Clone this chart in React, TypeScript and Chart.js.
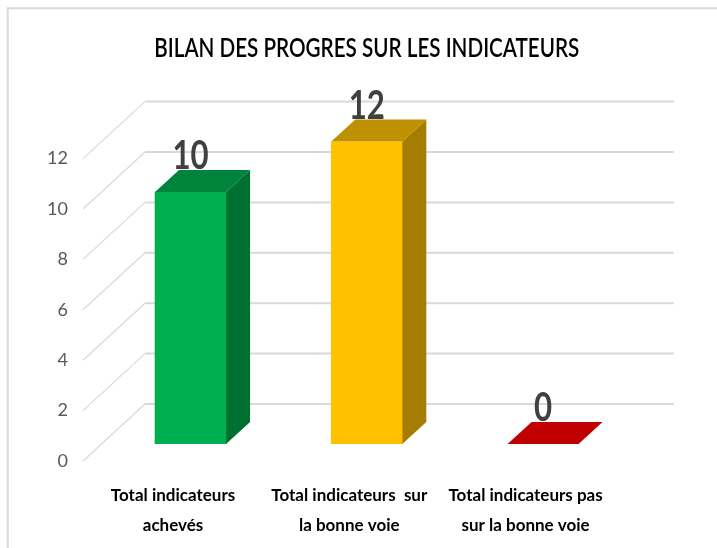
import React, { useEffect, useRef } from "react";
import { Chart, registerables } from "chart.js";

Chart.register(...registerables);

const title = "BILAN DES PROGRES SUR LES INDICATEURS";
const categories: string[][] = [
  ["Total indicateurs", "achevés"],
  ["Total indicateurs  sur", "la bonne voie"],
  ["Total indicateurs pas", "sur la bonne voie"],
];
const values: number[] = [10, 12, 0];
const yMin = 0;
const yMax = 12;
const yStep = 2;

const frontColors = ["#00b050", "#ffc000", "#c00000"];
const topColors = ["#00843c", "#bf9000", "#c00000"];
const sideColors = ["#007030", "#a67d00", "#a00000"];

const FONT = "Lato, 'Open Sans', sans-serif";
const GRID = "#d9d9d9";
// 3D projection offsets (style only)
const DEPTH_DX = 24;
const DEPTH_DY = -22;
const FRONT_DX = -19.4;
const FRONT_DY = 17;
const BACK_DX = 42.6;
const BACK_DY = -40;

const threeD = {
  id: "threeD",
  beforeDraw(chart: any) {
    const { ctx, width, height } = chart;
    ctx.save();
    ctx.fillStyle = "#ffffff";
    ctx.fillRect(0, 0, width, height);
    ctx.strokeStyle = GRID;
    ctx.lineWidth = 2;
    ctx.strokeRect(7.7, 8.3, width + 20, height + 20);
    ctx.restore();
  },
  beforeDatasetsDraw(chart: any) {
    const { ctx, chartArea } = chart;
    const ys = chart.scales.y;
    ctx.save();
    ys.ticks.forEach((t: any) => {
      const y = ys.getPixelForValue(t.value);
      ctx.strokeStyle = GRID;
      ctx.lineWidth = 1.2;
      ctx.beginPath();
      ctx.moveTo(chartArea.left + FRONT_DX, y + FRONT_DY);
      ctx.lineTo(chartArea.left + BACK_DX, y + BACK_DY);
      ctx.stroke();
      ctx.lineWidth = 2;
      ctx.beginPath();
      ctx.moveTo(chartArea.left + BACK_DX, y + BACK_DY);
      ctx.lineTo(chartArea.right + BACK_DX, y + BACK_DY);
      ctx.stroke();
    });
    ctx.restore();
  },
  afterDatasetsDraw(chart: any) {
    const { ctx, chartArea } = chart;
    const meta = chart.getDatasetMeta(0);
    ctx.save();
    meta.data.forEach((el: any, i: number) => {
      const { x, y, base, width } = el.getProps(["x", "y", "base", "width"], true);
      const l = x - width / 2;
      const r = x + width / 2;
      if (base - y > 0.5) {
        ctx.fillStyle = sideColors[i];
        ctx.beginPath();
        ctx.moveTo(r, y);
        ctx.lineTo(r + DEPTH_DX, y + DEPTH_DY);
        ctx.lineTo(r + DEPTH_DX, base + DEPTH_DY);
        ctx.lineTo(r, base);
        ctx.closePath();
        ctx.fill();
      }
      ctx.fillStyle = topColors[i];
      ctx.beginPath();
      ctx.moveTo(l, y);
      ctx.lineTo(r, y);
      ctx.lineTo(r + DEPTH_DX, y + DEPTH_DY);
      ctx.lineTo(l + DEPTH_DX, y + DEPTH_DY);
      ctx.closePath();
      ctx.fill();
      // value label (condensed look)
      ctx.save();
      ctx.translate(x, y + DEPTH_DY - 1);
      ctx.scale(0.78, 1);
      ctx.fillStyle = "#404040";
      ctx.font = `bold 40px ${FONT}`;
      ctx.textAlign = "center";
      ctx.textBaseline = "alphabetic";
      ctx.fillText(String(values[i]), 0, 0);
      ctx.restore();
    });
    // title (condensed look)
    ctx.save();
    ctx.font = `600 26px ${FONT}`;
    const w = ctx.measureText(title).width;
    ctx.translate((chartArea.left + chartArea.right) / 2, 57);
    ctx.scale(425 / w, 1);
    ctx.fillStyle = "#000000";
    ctx.textAlign = "center";
    ctx.textBaseline = "alphabetic";
    ctx.fillText(title, 0, 0);
    ctx.restore();
    ctx.restore();
  },
};

export default function App() {
  const ref = useRef<HTMLCanvasElement>(null);
  useEffect(() => {
    if (!ref.current) return;
    const chart = new Chart(ref.current, {
      type: "bar",
      data: {
        labels: categories,
        datasets: [
          {
            data: values,
            backgroundColor: frontColors,
            borderWidth: 0,
            barThickness: 71,
          },
        ],
      },
      options: {
        responsive: false,
        animation: false,
        devicePixelRatio: 1,
        layout: { padding: { left: 0, right: 85.8, top: 141.6, bottom: 0 } },
        plugins: {
          legend: { display: false },
          tooltip: { enabled: false },
          title: { display: false },
        },
        scales: {
          x: {
            grid: { display: false, drawTicks: false },
            border: { display: false },
            ticks: {
              color: "#000000",
              font: { family: FONT, size: 17, weight: "bold", lineHeight: 1.74 },
              padding: 37,
              labelOffset: -17.5,
              maxRotation: 0,
              autoSkip: false,
            },
            afterFit: (s: any) => {
              s.height = 104;
            },
          },
          y: {
            min: yMin,
            max: yMax,
            grid: { display: false, drawTicks: false },
            border: { display: false },
            ticks: {
              stepSize: yStep,
              color: "#595959",
              font: { family: FONT, size: 18 },
              padding: 34.4,
              labelOffset: 17,
            },
            afterFit: (s: any) => {
              s.width = 102.4;
            },
          },
        },
      },
      plugins: [threeD],
    });
    return () => chart.destroy();
  }, []);
  return (
    <div style={{ position: "fixed", left: 0, top: 0, width: 717, height: 548, background: "#fff" }}>
      <canvas ref={ref} width={717} height={548} style={{ display: "block" }} />
    </div>
  );
}
